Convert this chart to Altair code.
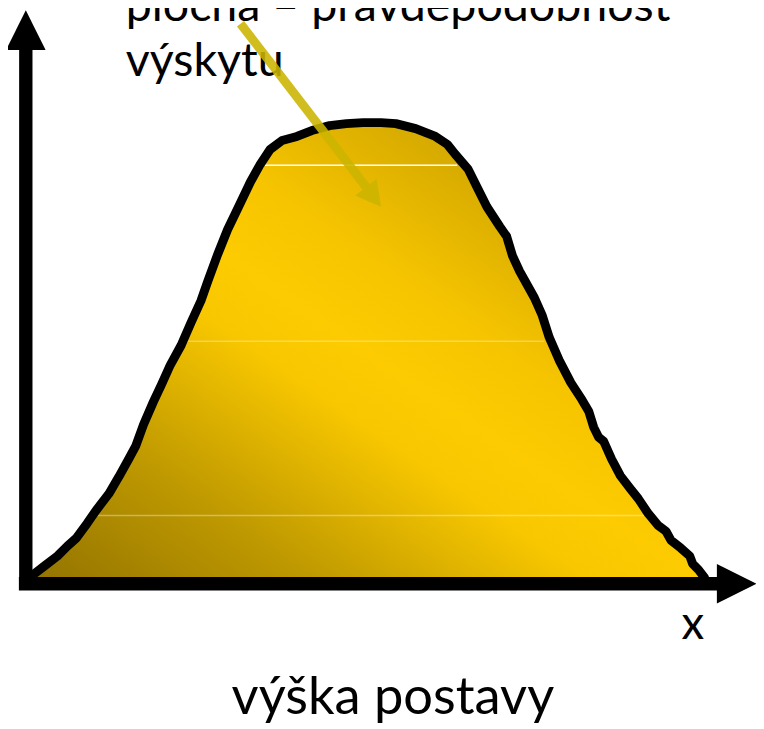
import altair as alt
import pandas as pd

# ---- data (x: arbitrary height units, y: density units) ----
curve_x = [0.86, 2.71, 4.57, 6.0, 7.29, 8.86, 10.14, 12.0, 13.43, 14.86, 15.86, 17.0,
           18.43, 19.57, 20.86, 22.43, 23.86, 25.29, 26.29, 27.71, 29.14, 30.86, 32.43,
           33.86, 35.29, 37.0, 39.14, 41.29, 43.86, 46.29, 48.71, 51.29, 53.43, 56.29,
           59.14, 60.86, 62.0, 63.86, 65.14, 66.57, 68.43, 69.43, 70.29, 71.29, 73.43,
           74.57, 75.57, 77.0, 78.71, 80.29, 81.29, 82.0, 82.71, 83.43, 84.57, 85.86,
           87.29, 88.43, 89.86, 91.29, 92.43, 93.14, 94.57, 95.86, 96.29, 97.14, 98.0]
curve_y = [1.6, 3.6, 5.6, 7.6, 9.2, 12.2, 14.8, 18.2, 21.6, 25.2, 27.8, 32.2,
           36.8, 40.2, 44.2, 48.2, 52.8, 57.2, 61.2, 66.6, 71.6, 76.6, 81.2,
           84.8, 87.8, 89.6, 90.4, 91.6, 92.6, 93.0, 93.2, 93.2, 93.0, 92.0,
           90.4, 88.8, 86.8, 83.8, 80.2, 76.2, 72.2, 70.2, 66.2, 63.2, 57.8,
           54.2, 49.8, 45.2, 40.6, 37.2, 34.8, 31.6, 29.6, 28.8, 25.2, 21.8,
           19.2, 17.2, 14.2, 11.8, 10.6, 8.8, 7.2, 5.6, 4.0, 2.8, 1.2]

# faint banding lines inside the fill
band_y = [84.6, 49.0, 13.8]
band_x1 = [34.14, 23.14, 9.57]
band_x2 = [62.29, 74.86, 89.43]
band_op = [1.0, 0.3, 0.35]

# axis arrows
shaft_x = [0.0, -1.0]
shaft_x2 = [0.0, 100.0]
shaft_y = [-1.2, 0.0]
shaft_y2 = [108.0, 0.0]
head_x = [0.0, 102.64]
head_y = [111.9, 0.0]
head_shape = ["M0,-1L1,1L-1,1Z", "M-1,-1L1,0L-1,1Z"]

# annotation arrow
ann_x, ann_y, ann_x2, ann_y2 = [31.0], [113.2], [49.14], [80.2]
ann_head_x, ann_head_y = [50.2], [78.18]

top_text = ["plocha – pravděpodobnost", "výskytu"]
top_text_x = [14.43, 14.43]
top_text_y = [113.8, 102.6]
x_label = ["x"]
x_label_x, x_label_y = [96.29], [-11.2]
title_label = ["výška postavy"]
title_x, title_y = [53.0], [-26.4]

XDOM = [-18 / 7, 738 / 7]
YDOM = [-28.6, 115.6]

xs = alt.Scale(domain=XDOM, nice=False, zero=False)
ys = alt.Scale(domain=YDOM, nice=False, zero=False)

curve = pd.DataFrame({"x": curve_x, "y": curve_y})
bands = pd.DataFrame({"x": band_x1, "x2": band_x2, "y": band_y, "op": band_op})
shafts = pd.DataFrame({"x": shaft_x, "x2": shaft_x2, "y": shaft_y, "y2": shaft_y2})
heads = pd.DataFrame({"x": head_x, "y": head_y, "shape": head_shape})
ann = pd.DataFrame({"x": ann_x, "y": ann_y, "x2": ann_x2, "y2": ann_y2})
ann_head = pd.DataFrame({"x": ann_head_x, "y": ann_head_y})
top_df = pd.DataFrame({"t": top_text, "x": top_text_x, "y": top_text_y})
xl_df = pd.DataFrame({"t": x_label, "x": x_label_x, "y": x_label_y})
tl_df = pd.DataFrame({"t": title_label, "x": title_x, "y": title_y})

grad = alt.LinearGradient(
    gradient="linear",
    stops=[
        alt.GradientStop(offset=0, color="#927300"),
        alt.GradientStop(offset=0.22, color="#C09A00"),
        alt.GradientStop(offset=0.42, color="#F8C700"),
        alt.GradientStop(offset=0.5, color="#FDCB00"),
        alt.GradientStop(offset=0.6, color="#F7C500"),
        alt.GradientStop(offset=0.8, color="#D2A700"),
        alt.GradientStop(offset=1, color="#B89200"),
    ],
    x1=0, y1=1, x2=1, y2=0,
)

X = lambda f="x": alt.X(f"{f}:Q", scale=xs, axis=None)
Y = lambda f="y": alt.Y(f"{f}:Q", scale=ys, axis=None)

area = alt.Chart(curve).mark_area(color=grad, interpolate="linear").encode(x=X(), y=Y())

band_layer = alt.Chart(bands).mark_rule(color="white", strokeWidth=1.5).encode(
    x=X(), x2="x2:Q", y=Y(), opacity=alt.Opacity("op:Q", scale=None)
)

outline = alt.Chart(curve).mark_line(
    color="black", strokeWidth=9, strokeJoin="round", strokeCap="round"
).encode(x=X(), y=Y(), order="x:Q")

shaft_layer = alt.Chart(shafts).mark_rule(color="black", strokeWidth=13.5).encode(
    x=X(), x2="x2:Q", y=Y(), y2="y2:Q"
)

head_layer = alt.Chart(heads).mark_point(
    filled=True, size=1600, color="black", opacity=1, strokeWidth=0
).encode(x=X(), y=Y(), shape=alt.Shape("shape:N", scale=None))

ann_layer = alt.Chart(ann).mark_rule(color="#CCB400", strokeWidth=9, opacity=0.88).encode(
    x=X(), x2="x2:Q", y=Y(), y2="y2:Q"
)
ann_head_layer = alt.Chart(ann_head).mark_point(
    filled=True, size=625, color="#CCB400", opacity=0.88, strokeWidth=0,
    shape="M-1,-1.1L1,0L-1,1.1Z", angle=52.5
).encode(x=X(), y=Y())

top_layer = alt.Chart(top_df).mark_text(
    font="Lato", fontSize=47, align="left", baseline="alphabetic", color="black"
).encode(x=X(), y=Y(), text="t:N")

xl_layer = alt.Chart(xl_df).mark_text(
    font="Lato", fontSize=46, align="center", baseline="alphabetic", color="black"
).encode(x=X(), y=Y(), text="t:N")

tl_layer = alt.Chart(tl_df).mark_text(
    font="Lato", fontSize=53, align="center", baseline="alphabetic", color="black"
).encode(x=X(), y=Y(), text="t:N")

chart = alt.layer(
    area, band_layer, outline, shaft_layer, head_layer,
    top_layer, ann_layer, ann_head_layer, xl_layer, tl_layer
).properties(
    width=756, height=721,
    autosize=alt.AutoSizeParams(type="none"),
    padding=0,
    background="white",
).configure_view(stroke=None)

chart.save("out.html", embed_options={"renderer": "svg", "actions": False})
